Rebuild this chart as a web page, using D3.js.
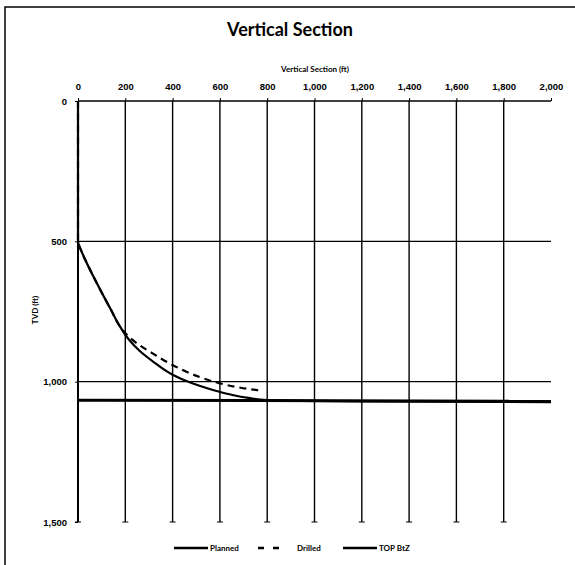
<!DOCTYPE html>
<html>
<head>
<meta charset="utf-8">
<script src="https://cdn.jsdelivr.net/npm/d3@7"></script>
<style>
  body { margin: 0; background: #fff; }
  svg { display: block; font-family: Lato, "Open Sans", sans-serif; }
  .tick text { font-size: 9.5px; font-weight: bold; fill: #000; }
</style>
</head>
<body>
<svg width="575" height="565"></svg>
<script>
const width = 575;
const height = 565;

// vertical section (ft) vs TVD (ft)
const plannedVS  = [0, 0, 12, 33, 62, 100, 140, 175, 215, 260, 320, 400, 480, 560, 640, 720, 800, 1200, 2000];
const plannedTVD = [0, 500, 530, 570, 620, 682, 745, 800, 850, 890, 930, 975, 1005, 1027, 1045, 1058, 1066, 1070, 1073];

const drilledVS  = [0, 0, 12, 33, 62, 100, 140, 175, 215, 260, 317, 381, 452, 529, 600, 677, 757, 778];
const drilledTVD = [0, 500, 530, 570, 620, 682, 745, 800, 840, 870, 900, 932, 962, 988, 1006, 1020, 1030, 1032];

const topVS  = [0, 2000];
const topTVD = [1066, 1070];

const xTicks = [0, 200, 400, 600, 800, 1000, 1200, 1400, 1600, 1800, 2000];
const yTicks = [0, 500, 1000, 1500];

const svg = d3.select("svg");

const x = d3.scaleLinear().domain([0, 2000]).range([78, 551]);
const y = d3.scaleLinear().domain([0, 1500]).range([101, 522]);

// outer frame (only top and left edges visible)
svg.append("path")
  .attr("d", "M5,565 L5,7 L575,7")
  .attr("fill", "none")
  .attr("stroke", "#000")
  .attr("stroke-width", 1.5);

// title
svg.append("text")
  .attr("x", 290).attr("y", 36)
  .attr("text-anchor", "middle")
  .style("font-size", "18px")
  .style("font-weight", "bold")
  .text("Vertical Section");

// vertical grid lines
svg.append("g")
  .selectAll("line")
  .data(xTicks.filter(d => d > 0 && d < 2000))
  .enter().append("line")
  .attr("x1", d => x(d)).attr("x2", d => x(d))
  .attr("y1", y(0)).attr("y2", y(1500))
  .attr("stroke", "#000")
  .attr("stroke-width", 1.4);

// horizontal grid lines
svg.append("g")
  .selectAll("line")
  .data(yTicks.filter(d => d > 0 && d < 1500))
  .enter().append("line")
  .attr("x1", x(0)).attr("x2", x(2000))
  .attr("y1", d => y(d)).attr("y2", d => y(d))
  .attr("stroke", "#000")
  .attr("stroke-width", 1.2);

// bottom tick caps on grid lines
svg.append("g")
  .selectAll("line")
  .data(xTicks.filter(d => d < 2000))
  .enter().append("line")
  .attr("x1", d => x(d) - 3).attr("x2", d => x(d) + 3)
  .attr("y1", y(1500)).attr("y2", y(1500))
  .attr("stroke", "#000");

// axes
const fmt = d3.format(",");
const xAxis = svg.append("g")
  .attr("transform", `translate(0,${y(0)})`)
  .call(d3.axisTop(x).tickValues(xTicks).tickFormat(fmt).tickSize(3).tickPadding(8));
const yAxis = svg.append("g")
  .attr("transform", `translate(${x(0)},0)`)
  .call(d3.axisLeft(y).tickValues(yTicks).tickFormat(fmt).tickSize(3).tickPadding(8));
svg.selectAll(".domain").attr("stroke-width", 1.5);
xAxis.select(".domain").attr("d", `M${x(0)},0H${x(2000)}`);
yAxis.select(".domain").attr("d", `M0,${y(0)}V${y(1500)}`).attr("stroke-width", 2);

// axis titles
svg.append("text")
  .attr("x", 315).attr("y", 72)
  .attr("text-anchor", "middle")
  .style("font-size", "8px")
  .style("font-weight", "bold")
  .text("Vertical Section (ft)");
svg.append("text")
  .attr("transform", "translate(38,310) rotate(-90)")
  .attr("text-anchor", "middle")
  .style("font-size", "8px")
  .style("font-weight", "bold")
  .text("TVD (ft)");

const smooth = d3.line().x(d => x(d[0])).y(d => y(d[1])).curve(d3.curveMonotoneY);
const straight = d3.line().x(d => x(d[0])).y(d => y(d[1]));

// series
svg.append("path")
  .datum(topVS.map((v, i) => [v, topTVD[i]]))
  .attr("d", straight)
  .attr("fill", "none").attr("stroke", "#000").attr("stroke-width", 3);

svg.append("path")
  .datum(drilledVS.map((v, i) => [v, drilledTVD[i]]))
  .attr("d", smooth)
  .attr("fill", "none").attr("stroke", "#000").attr("stroke-width", 2.2)
  .attr("stroke-dasharray", "7,5");

svg.append("path")
  .datum(plannedVS.map((v, i) => [v, plannedTVD[i]]))
  .attr("d", smooth)
  .attr("fill", "none").attr("stroke", "#000").attr("stroke-width", 2.2);

// legend
const legendItems = [
  { label: "Planned", dash: null, x: 174 },
  { label: "Drilled", dash: "6,9", x: 258 },
  { label: "TOP BtZ", dash: null, x: 343 }
];
const legend = svg.append("g").attr("transform", "translate(0,548)");
legendItems.forEach(it => {
  legend.append("line")
    .attr("x1", it.x).attr("x2", it.x + (it.dash ? 21 : 34))
    .attr("y1", 0).attr("y2", 0)
    .attr("stroke", "#000").attr("stroke-width", 2.5)
    .attr("stroke-dasharray", it.dash);
  legend.append("text")
    .attr("x", it.x + (it.dash ? 39 : 36)).attr("y", 3)
    .style("font-size", "8px").style("font-weight", "bold")
    .text(it.label);
});
</script>
</body>
</html>
